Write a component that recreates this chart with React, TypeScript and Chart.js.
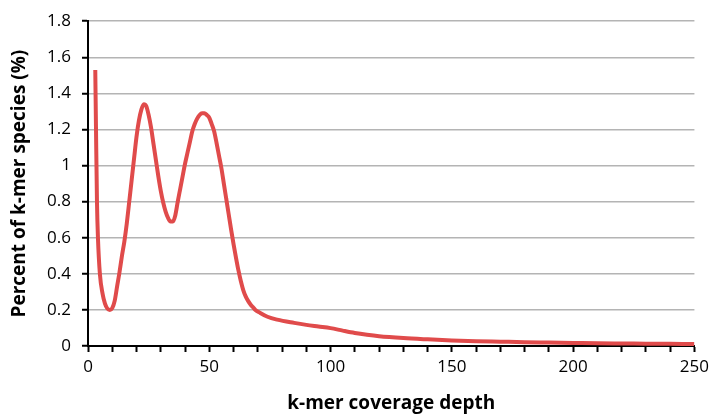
import React, { useEffect, useRef } from "react";
import { Chart, registerables } from "chart.js";

Chart.register(...registerables);

const depth = [3, 3.3, 3.7, 4.1, 4.9, 6, 7, 8, 9, 10, 11, 12, 13, 14, 15, 16, 17, 18, 19, 20, 21, 22, 23, 24, 25, 26, 27, 28, 29, 30, 31, 32, 33, 34, 35, 36, 37, 38, 39, 40, 41, 42, 43, 44, 45, 46, 47, 48, 49, 50, 51, 52, 53, 54, 55, 56, 57, 58, 59, 60, 61, 62, 63, 64, 65, 66, 67, 68, 69, 71, 74, 78, 85, 90, 95, 100, 105, 110, 115, 120, 130, 140, 150, 160, 170, 180, 190, 200, 210, 220, 230, 240, 250];
const percent = [1.53, 1.2, 0.8, 0.6, 0.4, 0.29, 0.235, 0.207, 0.2, 0.21, 0.25, 0.33, 0.41, 0.5, 0.58, 0.68, 0.8, 0.92, 1.04, 1.16, 1.25, 1.31, 1.34, 1.33, 1.28, 1.21, 1.12, 1.03, 0.94, 0.86, 0.795, 0.745, 0.71, 0.69, 0.69, 0.725, 0.8, 0.87, 0.94, 1.01, 1.07, 1.13, 1.19, 1.23, 1.26, 1.28, 1.29, 1.29, 1.28, 1.265, 1.23, 1.19, 1.125, 1.055, 0.985, 0.9, 0.815, 0.73, 0.645, 0.565, 0.49, 0.42, 0.36, 0.31, 0.275, 0.25, 0.23, 0.215, 0.2, 0.183, 0.162, 0.146, 0.128, 0.117, 0.108, 0.099, 0.085, 0.072, 0.062, 0.054, 0.044, 0.037, 0.031, 0.027, 0.024, 0.021, 0.019, 0.017, 0.015, 0.014, 0.013, 0.012, 0.011];
const xLabelTicks = [0, 50, 100, 150, 200, 250];

const xTitle = "k-mer coverage depth";
const yTitle = "Percent of k-mer species (%)";

export default function App() {
  const ref = useRef<HTMLCanvasElement>(null);
  useEffect(() => {
    document.body.style.margin = "0";
    const font = "'Open Sans', sans-serif";
    const chart = new Chart(ref.current!, {
      type: "line",
      data: {
        datasets: [
          {
            data: depth.map((d, i) => ({ x: d, y: percent[i] })),
            borderColor: "#E04B4B",
            borderWidth: 4,
            pointRadius: 0,
            fill: false,
            cubicInterpolationMode: "monotone",
          },
        ],
      },
      options: {
        animation: false,
        responsive: false,
        maintainAspectRatio: false,
        layout: { padding: { top: 17, right: 16, left: 0, bottom: 0 } },
        plugins: { legend: { display: false }, tooltip: { enabled: false } },
        scales: {
          x: {
            type: "linear",
            min: 0,
            max: 250,
            afterFit: (s: any) => { s.height = 69; },
            ticks: {
              stepSize: 10,
              autoSkip: false,
              maxRotation: 0,
              color: "#000",
              font: { family: font, size: 17 },
              padding: 5,
              callback: (v: any) => (xLabelTicks.includes(Number(v)) ? String(v) : ""),
            },
            grid: { drawOnChartArea: false, drawTicks: true, tickLength: 6, tickColor: "#000", tickWidth: 2 },
            border: { color: "#000", width: 2 },
            title: { display: true, text: xTitle, color: "#000", font: { family: font, size: 19, weight: "bold" }, padding: { top: 8, bottom: 0 } },
          },
          y: {
            min: 0,
            max: 1.8,
            afterFit: (s: any) => { s.width = 88; },
            ticks: {
              stepSize: 0.2,
              color: "#000",
              font: { family: font, size: 17 },
              padding: 11,
              callback: (v: any) => String(Math.round(Number(v) * 10) / 10),
            },
            grid: { color: "#b4b4b4", lineWidth: 1.5, tickLength: 6, tickColor: "#000", tickWidth: 2 },
            border: { color: "#000", width: 2 },
            title: { display: true, text: yTitle, color: "#000", font: { family: font, size: 19, weight: "bold" }, padding: { top: 8, bottom: 0 } },
          },
        },
      },
    });
    return () => chart.destroy();
  }, []);
  return (
    <div style={{ width: 714, height: 415 }}>
      <canvas ref={ref} width={714} height={415} />
    </div>
  );
}
